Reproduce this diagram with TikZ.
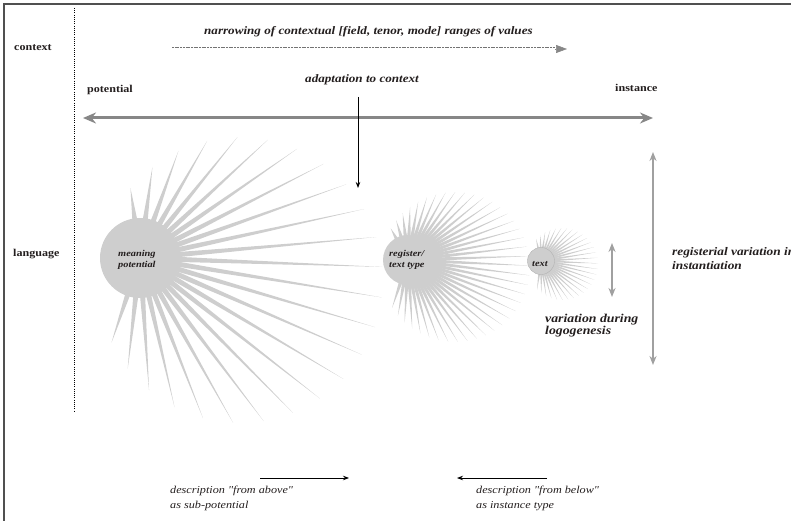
\documentclass[tikz,border=0pt]{standalone}
\usepackage{fontspec}
\setmainfont[FakeStretch=1.15, Ligatures=TeXOff]{Liberation Serif}
\usetikzlibrary{calc,arrows.meta}
\definecolor{spkc}{RGB}{206,206,206}
\definecolor{txt}{RGB}{35,30,30}
\definecolor{arrc}{RGB}{135,135,135}
\definecolor{arrc2}{RGB}{160,160,160}
\definecolor{framec}{RGB}{80,80,80}
\begin{document}
\begin{tikzpicture}[x=1pt,y=-1pt,
  base/.style={inner sep=0pt, anchor=base west, text=txt},
  bl/.style={base, font=\fontsize{10.5}{12}\selectfont\bfseries},
  bi/.style={base, font=\fontsize{11.4}{13}\selectfont\bfseries\itshape},
  bibig/.style={base, font=\fontsize{12}{12}\selectfont\bfseries\itshape, align=left},
  bimid/.style={base, font=\fontsize{11.6}{14}\selectfont\bfseries\itshape, align=left},
  itx/.style={base, font=\fontsize{10.6}{15}\selectfont\itshape, align=left},
  hubtxt/.style={base, font=\fontsize{9}{11}\selectfont\bfseries\itshape, align=left},
  spk/.style={fill=spkc},
  grayarrow/.style={draw=arrc, line width=3pt, {Stealth[length=13pt,width=11pt]}-{Stealth[length=13pt,width=11pt]}},
  vgray/.style={draw=arrc2, line width=2.2pt, {Stealth[length=9pt,width=7pt]}-{Stealth[length=9pt,width=7pt]}},
  thinarrow/.style={draw=black, line width=0.8pt, -{Stealth[length=6pt,width=4.5pt]}},
]
\useasboundingbox (0,0) rectangle (791,521);
% frame
\coordinate (f1) at (4,521);
\coordinate (f2) at (4,4);
\coordinate (f3) at (791,4);
\draw[framec, line width=1.3pt] (f1) -- (f2) -- (f3);
% dotted divider
\coordinate (d1) at (74,8);
\coordinate (d2) at (74,412);
\draw[black, line width=0.6pt, dash pattern=on 1pt off 1.2pt] (d1) -- (d2);

% left labels
\node[bl] (ctx) at (14,50.5) {context};
\node[bl] (lang) at (13,256) {language};
\node[bl] (pot) at (87,92.5) {potential};
\node[bl] (inst) at (615,92) {instance};

% top labels
\node[bi] (narrow) at (204,35) {narrowing of contextual [field, tenor, mode] ranges of values};
\node[bi] (adapt) at (305,83) {adaptation to context};

% dashed arrow
\coordinate (ds) at (172,49);
\coordinate (de) at (555,49);
\coordinate (dt) at (567,49);
\draw[black!55, double=white, double distance=1.2pt, line width=0.9pt, dash pattern=on 2pt off 0.7pt] (ds) -- (de);
\draw[arrc, line width=0.5pt, -{Triangle[length=11pt,width=8pt]}] (de) -- (dt);

% potential - instance arrow
\coordinate (pl) at (83,118);
\coordinate (pr) at (653,118);
\draw[grayarrow] (pl) -- (pr);

% adaptation arrow
\coordinate (a1) at (358,97);
\coordinate (a2) at (358,188);
\draw[thinarrow] (a1) -- (a2);

% big burst
\coordinate (H1) at (140,258);
\coordinate (E1) at (240,280);
\foreach \i in {0,...,24}{
  \pgfmathsetmacro\ang{140-\i*12.25}
  \path ($(E1)+(\ang:143pt)$) coordinate (T);
  \fill[spk] ($(H1)!37pt!4:(T)$) -- (T) -- ($(H1)!37pt!-4:(T)$) -- cycle;
}
\fill[spk] (H1) circle[radius=40pt];

% register burst
\coordinate (H2) at (408,260);
\coordinate (E2) at (455,267);
\foreach \i in {0,...,40}{
  \pgfmathsetmacro\ang{149-\i*7.4}
  \path ($(E2)+(\ang:75pt)$) coordinate (T);
  \fill[spk] ($(H2)!23pt!4.5:(T)$) -- (T) -- ($(H2)!23pt!-4.5:(T)$) -- cycle;
}
\fill[spk] (H2) circle[radius=25pt];

% text burst
\coordinate (H3) at (541,261);
\coordinate (E3) at (562,264);
\foreach \i in {0,...,30}{
  \pgfmathsetmacro\ang{136-\i*9}
  \path ($(E3)+(\ang:36pt)$) coordinate (T);
  \fill[spk] ($(H3)!12pt!5:(T)$) -- (T) -- ($(H3)!12pt!-5:(T)$) -- cycle;
}
\filldraw[fill=spkc, draw=black!30, line width=0.4pt] (H3) circle[radius=13.5pt];

% hub texts (base = last line)
\node[hubtxt] (mp) at (118,267) {meaning\\potential};
\node[hubtxt] (rt) at (389,267) {register/\\text type};
\node[hubtxt] (tx) at (532,266) {text};

% vertical arrows
\coordinate (v1) at (612,243);
\coordinate (v2) at (612,297);
\draw[vgray] (v1) -- (v2);
\coordinate (w1) at (653,152);
\coordinate (w2) at (653,365);
\draw[vgray] (w1) -- (w2);

\node[bibig] (logo) at (545,334) {variation during\\logogenesis};
\node[bimid] (reg) at (672,269) {registerial variation in\\instantiation};

% bottom
\coordinate (b1) at (260,478);
\coordinate (b2) at (349,478);
\draw[thinarrow] (b1) -- (b2);
\coordinate (c1) at (547,478);
\coordinate (c2) at (457,478);
\draw[thinarrow] (c1) -- (c2);
\node[itx] (above) at (170,508) {description "from above"\\as sub-potential};
\node[itx] (below) at (476,508) {description "from below"\\as instance type};
\end{tikzpicture}
\end{document}
